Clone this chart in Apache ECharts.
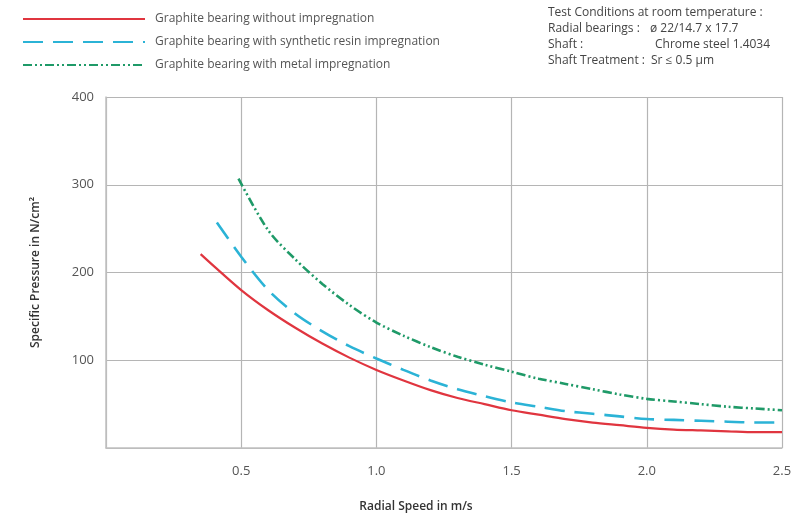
<!DOCTYPE html>
<html>
<head>
<meta charset="utf-8">
<script src="https://cdn.jsdelivr.net/npm/echarts@6/dist/echarts.min.js"></script>
<style>html,body{margin:0;padding:0;background:#fff}#c{width:799px;height:518px}</style>
</head>
<body>
<div id="c"></div>
<script>
const seriesNames = [
  'Graphite bearing without impregnation',
  'Graphite bearing with synthetic resin impregnation',
  'Graphite bearing with metal impregnation'
];
const noImpregnation = [[0.35,221],[0.4,207],[0.5,180],[0.6,157],[0.7,137],[0.8,119],[0.9,103],[1.0,89],[1.1,77],[1.2,66],[1.3,57],[1.4,50],[1.5,43],[1.6,38],[1.7,33],[1.8,29],[1.9,26],[2.0,23],[2.1,21],[2.2,20],[2.3,19],[2.4,18],[2.5,18]];
const resinImpregnation = [[0.41,257],[0.5,218],[0.6,180],[0.7,153],[0.8,133],[0.9,116],[1.0,102],[1.1,89],[1.2,77],[1.3,67],[1.4,59],[1.5,52],[1.6,47],[1.7,42],[1.8,39],[1.9,36],[2.0,33],[2.1,32],[2.2,31],[2.3,30],[2.4,29],[2.5,29]];
const metalImpregnation = [[0.49,307],[0.6,248],[0.7,215],[0.8,187],[0.9,163],[1.0,143],[1.1,128],[1.2,115],[1.3,104],[1.4,95],[1.5,87],[1.6,79],[1.7,73],[1.8,67],[1.9,61],[2.0,56],[2.1,53],[2.2,50],[2.3,47],[2.4,45],[2.5,43]];
const xTicks = [0, 0.5, 1.0, 1.5, 2.0, 2.5];
const yTicks = [0, 100, 200, 300, 400];
const conditions = [
  ['Test Conditions at room temperature :', ''],
  ['Radial bearings :', 'ø 22/14.7 x 17.7'],
  ['Shaft :', 'Chrome steel 1.4034'],
  ['Shaft Treatment :', 'Sr ≤ 0.5 µm']
];

const FONT = 'Open Sans';
const colors = ['#e0353f', '#2bb3d6', '#1f9a68'];
const dashes = ['solid', [20, 10], [9, 3, 2, 3, 2, 3]];
const data = [noImpregnation, resinImpregnation, metalImpregnation];

const chart = echarts.init(document.getElementById('c'));
const graphics = [];
const txt = (x, y, s) => ({type: 'text', left: x, top: y, style: {text: s, font: '12px "' + FONT + '"', fill: '#444'}});
graphics.push(txt(548, 7, conditions[0][0]));
graphics.push(txt(548, 23, conditions[1][0]));
graphics.push(txt(548, 39, conditions[2][0]));
graphics.push(txt(548, 55, conditions[3][0]));
graphics.push(txt(650, 23, conditions[1][1]));
graphics.push(txt(655, 39, conditions[2][1]));
graphics.push(txt(651, 55, conditions[3][1]));

chart.setOption({
  animation: false,
  textStyle: {fontFamily: FONT},
  legend: {
    orient: 'vertical', left: 17, top: 8, itemWidth: 122, itemHeight: 12, itemGap: 11,
    data: seriesNames,
    itemStyle: {opacity: 0},
    textStyle: {fontSize: 12, color: '#555', padding: [0, 0, 0, 5]}
  },
  grid: {left: 106, right: 17, top: 97, bottom: 68, containLabel: false},
  xAxis: {
    type: 'value', min: 0, max: 2.5, interval: 0.5,
    name: 'Radial Speed in m/s', nameLocation: 'middle', nameGap: 53,
    nameTextStyle: {fontSize: 12, color: '#333', fontWeight: 600, padding: [0, 56, 0, 0]},
    axisLine: {show: true, lineStyle: {color: '#c0c0c0', width: 1.5}},
    axisTick: {show: false},
    axisLabel: {margin: 17, fontSize: 13, color: '#555', formatter: v => v === 0 ? '' : v.toFixed(1)},
    splitLine: {show: true, lineStyle: {color: '#b5b5b5', width: 1.2}}
  },
  yAxis: {
    type: 'value', min: 0, max: 400, interval: 100,
    name: 'Specific Pressure in N/cm²', nameLocation: 'middle', nameGap: 64, nameRotate: 90,
    nameTextStyle: {fontSize: 12, color: '#333', fontWeight: 600},
    axisLine: {show: true, lineStyle: {color: '#c0c0c0', width: 1.5}},
    axisTick: {show: false},
    axisLabel: {margin: 12, fontSize: 13, color: '#555', formatter: v => v === 0 ? '' : String(v)},
    splitLine: {show: true, lineStyle: {color: '#b5b5b5', width: 1.2}}
  },
  graphic: graphics,
  series: seriesNames.map((n, i) => ({
    name: n, type: 'line', data: data[i], smooth: 0.3, symbol: 'none',
    color: colors[i],
    lineStyle: {color: colors[i], width: i === 0 ? 2.2 : 2.6, type: dashes[i], cap: 'butt'}
  }))
});
</script>
</body>
</html>
